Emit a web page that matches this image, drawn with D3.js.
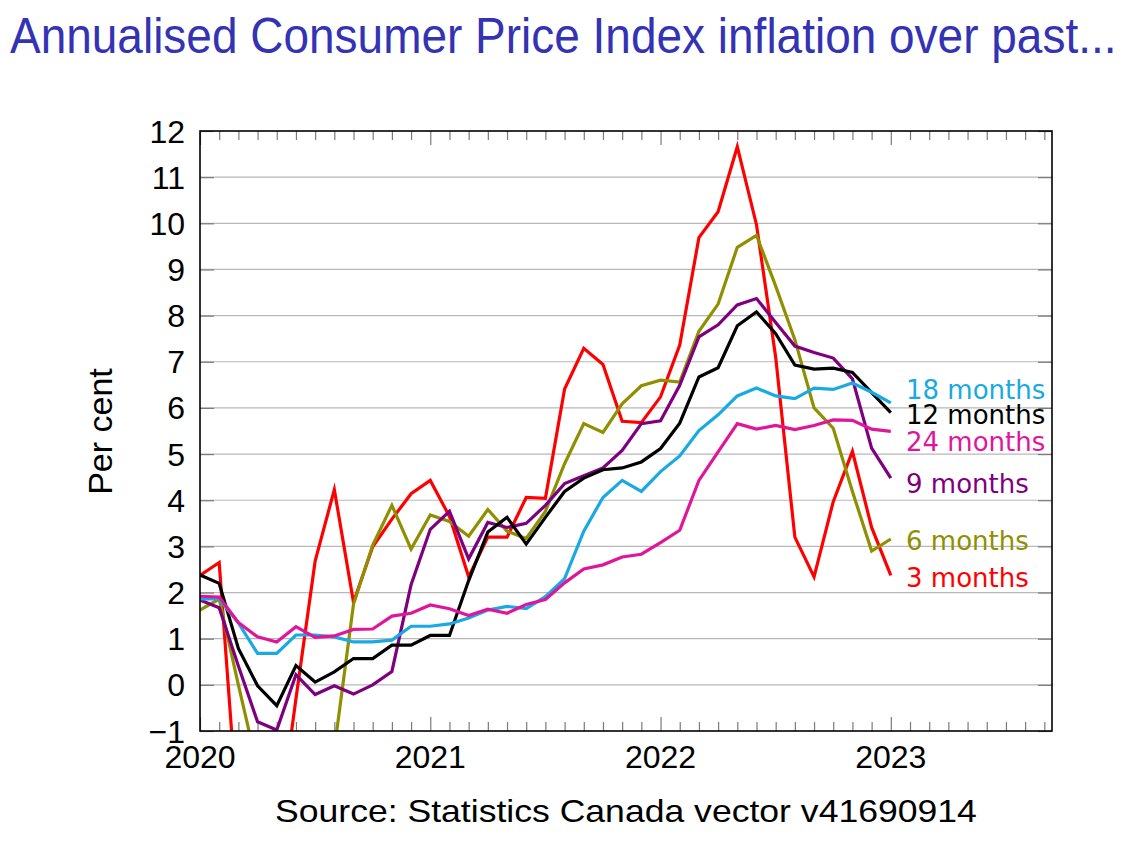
<!DOCTYPE html>
<html>
<head>
<meta charset="utf-8">
<script src="https://cdn.jsdelivr.net/npm/d3@7"></script>
<style>
  html, body { margin: 0; padding: 0; background: #fff; }
  svg { display: block; }
</style>
</head>
<body>
<svg id="chart" width="1137" height="843"></svg>
<script>
// ---------------- data ----------------
const months = [
  "2020-01","2020-02","2020-03","2020-04","2020-05","2020-06","2020-07","2020-08","2020-09","2020-10","2020-11","2020-12",
  "2021-01","2021-02","2021-03","2021-04","2021-05","2021-06","2021-07","2021-08","2021-09","2021-10","2021-11","2021-12",
  "2022-01","2022-02","2022-03","2022-04","2022-05","2022-06","2022-07","2022-08","2022-09","2022-10","2022-11","2022-12",
  "2023-01"
];
const m3 = [2.37,2.65,-3.0,-7.0,-3.4,-0.3,2.68,4.23,1.79,2.99,3.59,4.14,4.43,3.65,2.34,3.2,3.2,4.06,4.04,6.41,7.29,6.94,5.71,5.68,6.24,7.36,9.69,10.25,11.66,9.97,7.1,3.2,2.34,3.97,5.06,3.41,2.37];
const m6 = [1.62,1.86,0.0,-1.8,-4.0,-4.2,-3.0,-1.4,1.75,3.03,3.89,2.94,3.68,3.54,3.22,3.8,3.33,3.17,3.76,4.79,5.66,5.47,6.09,6.48,6.6,6.56,7.66,8.25,9.48,9.74,8.64,7.48,6.0,5.56,4.19,2.9,3.16];
const m9 = [1.84,1.67,0.41,-0.8,-0.98,0.22,-0.21,-0.02,-0.2,0.0,0.29,2.17,3.37,3.76,2.73,3.52,3.41,3.5,3.89,4.36,4.53,4.7,5.08,5.66,5.72,6.49,7.54,7.8,8.23,8.37,7.85,7.34,7.2,7.08,6.63,5.13,4.48];
const m12 = [2.38,2.2,0.79,-0.02,-0.45,0.42,0.06,0.28,0.57,0.57,0.86,0.86,1.07,1.07,2.26,3.31,3.63,3.05,3.63,4.19,4.48,4.66,4.7,4.83,5.12,5.67,6.67,6.87,7.78,8.08,7.61,6.93,6.84,6.86,6.77,6.33,5.9];
const m18 = [1.86,1.86,1.34,0.68,0.68,1.08,1.08,1.04,0.93,0.93,0.97,1.27,1.27,1.32,1.45,1.62,1.7,1.65,1.91,2.3,3.33,4.06,4.43,4.19,4.62,4.96,5.51,5.85,6.26,6.43,6.26,6.2,6.43,6.4,6.54,6.34,6.11];
const m24 = [1.92,1.9,1.35,1.04,0.93,1.26,1.03,1.06,1.2,1.21,1.49,1.55,1.73,1.65,1.5,1.64,1.55,1.74,1.85,2.21,2.51,2.6,2.77,2.83,3.08,3.35,4.43,5.05,5.66,5.54,5.62,5.53,5.62,5.74,5.73,5.54,5.49];

const seriesNames  = ["3 months","6 months","9 months","12 months","18 months","24 months"];
const seriesValues = [m3, m6, m9, m12, m18, m24];
const seriesColors = ["#ff0000","#8f8f00","#7f007f","#000000","#19a9e3","#e0169a"];
// label anchor values (data units) where the end labels sit
const labelValues  = [2.33, 3.13, 4.36, 5.86, 6.40, 5.27];

const yTicks = [-1,0,1,2,3,4,5,6,7,8,9,10,11,12];
const yearTicks = [2020, 2021, 2022, 2023];
const xDomain = [2020, 2023.7];

const titleText = "Annualised Consumer Price Index inflation over past...";
const sourceText = "Source: Statistics Canada vector v41690914";
const yLabel = "Per cent";

// ---------------- layout ----------------
const svg = d3.select("#chart");
const L = 200, R = 1052, T = 131, B = 731;
const toYear = s => +s.slice(0,4) + (+s.slice(5,7) - 1) / 12;

const x = d3.scaleLinear().domain(xDomain).range([L, R]);
const y = d3.scaleLinear().domain([-1, 12]).range([B, T]);

const monthTicks = d3.range(0, Math.floor((xDomain[1]-xDomain[0])*12 + 1e-6) + 1)
  .map(i => xDomain[0] + i/12)
  .filter(v => !yearTicks.some(yv => Math.abs(yv - v) < 1e-6));

// text fitted to a target width by horizontal scaling
function fittedText(parent, str, x0, y0, size, targetW, fill) {
  const g = parent.append("g");
  const t = g.append("text")
    .attr("x", 0).attr("y", 0)
    .attr("font-family", "Liberation Sans, Arial, sans-serif")
    .attr("font-size", size).attr("fill", fill)
    .text(str);
  const w = t.node().getComputedTextLength();
  g.attr("transform", `translate(${x0},${y0}) scale(${targetW / w},1)`);
  return g;
}

// title
fittedText(svg, titleText, 10, 53, 50, 1107, "#3333b3");

// clip
svg.append("defs").append("clipPath").attr("id", "plotclip")
  .append("rect").attr("x", L).attr("y", T).attr("width", R-L).attr("height", B-T);

// grid
svg.append("g")
  .selectAll("line").data(yTicks.filter(v => v > -1 && v < 12)).join("line")
  .attr("x1", L).attr("x2", R)
  .attr("y1", d => y(d)).attr("y2", d => y(d))
  .attr("stroke", "#b8b8b8").attr("stroke-width", 1.2);

function styleAxis(g) {
  g.select(".domain").remove();
  g.selectAll(".tick line").attr("stroke", "#7a7a7a").attr("stroke-width", 1.2);
}

// bottom minor & major ticks (pointing inward)
svg.append("g").attr("transform", `translate(0,${B})`)
  .call(d3.axisBottom(x).tickValues(monthTicks).tickSize(-9).tickFormat(""))
  .call(styleAxis);
svg.append("g").attr("transform", `translate(0,${B})`)
  .call(d3.axisBottom(x).tickValues(yearTicks).tickSize(-14).tickFormat(""))
  .call(styleAxis);
// top
svg.append("g").attr("transform", `translate(0,${T})`)
  .call(d3.axisTop(x).tickValues(monthTicks).tickSize(-9).tickFormat(""))
  .call(styleAxis);
svg.append("g").attr("transform", `translate(0,${T})`)
  .call(d3.axisTop(x).tickValues(yearTicks).tickSize(-14).tickFormat(""))
  .call(styleAxis);
// left / right y ticks
svg.append("g").attr("transform", `translate(${L},0)`)
  .call(d3.axisLeft(y).tickValues(yTicks).tickSize(-14).tickFormat(""))
  .call(styleAxis);
svg.append("g").attr("transform", `translate(${R},0)`)
  .call(d3.axisRight(y).tickValues(yTicks).tickSize(-14).tickFormat(""))
  .call(styleAxis);

// tick labels
svg.append("g")
  .selectAll("text").data(yTicks).join("text")
  .attr("x", 185).attr("y", d => y(d) + 11.5)
  .attr("text-anchor", "end")
  .attr("font-family", "Liberation Sans, Arial, sans-serif")
  .attr("font-size", 32).attr("fill", "#000")
  .text(d => d < 0 ? "\u2212" + Math.abs(d) : d);

svg.append("g")
  .selectAll("text").data(yearTicks).join("text")
  .attr("x", d => x(d)).attr("y", 768)
  .attr("text-anchor", "middle")
  .attr("font-family", "Liberation Sans, Arial, sans-serif")
  .attr("font-size", 32).attr("fill", "#000")
  .text(d => d);

// y label
svg.append("text")
  .attr("transform", `translate(111.5,431.5) rotate(-90)`)
  .attr("text-anchor", "middle")
  .attr("font-family", "Liberation Sans, Arial, sans-serif")
  .attr("font-size", 34).attr("fill", "#000")
  .text(yLabel);

// lines
const line = d3.line()
  .x((d, i) => x(toYear(months[i])))
  .y(d => y(d));

const gLines = svg.append("g").attr("clip-path", "url(#plotclip)");
seriesValues.forEach((vals, k) => {
  gLines.append("path")
    .datum(vals)
    .attr("d", line)
    .attr("fill", "none")
    .attr("stroke", seriesColors[k])
    .attr("stroke-width", 3.2)
    .attr("stroke-linejoin", "miter")
    .attr("stroke-miterlimit", 10);
});

// frame
svg.append("rect")
  .attr("x", L).attr("y", T).attr("width", R-L).attr("height", B-T)
  .attr("fill", "none").attr("stroke", "#000").attr("stroke-width", 1.6);

// end labels
svg.append("g")
  .selectAll("text").data(seriesNames).join("text")
  .attr("x", 906)
  .attr("y", (d, i) => y(labelValues[i]))
  .attr("dy", "0.36em")
  .attr("font-family", "DejaVu Sans, sans-serif")
  .attr("font-size", 26)
  .attr("fill", (d, i) => seriesColors[i])
  .text(d => d);

// source
fittedText(svg, sourceText, 275, 822, 32, 702, "#000");
</script>
</body>
</html>
